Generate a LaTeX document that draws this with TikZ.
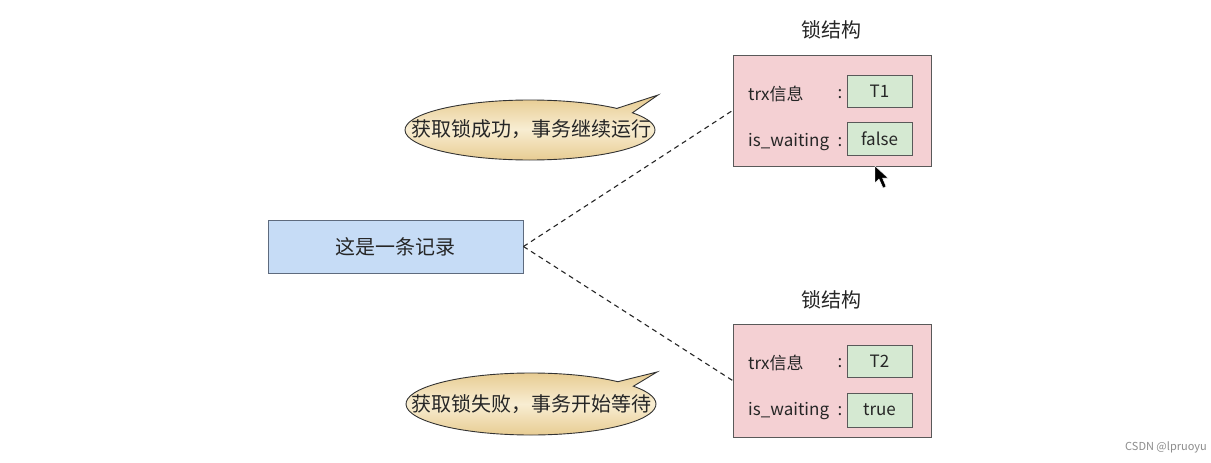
\documentclass[tikz,border=0pt]{standalone}
\usepackage{fontspec}
\setmainfont{Noto Sans CJK SC}
\begin{document}
\begin{tikzpicture}[x=1pt,y=1pt,
  txt/.style={text=black!85},
  recbox/.style={draw=recline, line width=0.9pt, fill=recfill, minimum width=255pt, minimum height=53pt, inner sep=0pt, font=\fontsize{20}{24}\selectfont, txt},
  lockbox/.style={draw=black!65, line width=0.9pt, fill=lockfill, minimum width=198pt, inner sep=0pt},
  valbox/.style={draw=black!65, line width=0.9pt, fill=valfill, minimum width=65pt, inner sep=0pt, font=\fontsize{17}{20}\selectfont, txt},
  lbl/.style={inner sep=0pt, font=\fontsize{17}{20}\selectfont, txt},
  ttl/.style={inner sep=0pt, font=\fontsize{20}{24}\selectfont, txt},
  bubble/.style={draw=black!80, line width=0.9pt, top color=tanfill, bottom color=tanfill, middle color=creamfill},
  btext/.style={inner sep=0pt, font=\fontsize{20}{24}\selectfont, txt},
  link/.style={draw=black!85, line width=1.1pt, dash pattern=on 5pt off 4pt}
]
\definecolor{recfill}{HTML}{C6DCF6}
\definecolor{recline}{HTML}{5E6B7E}
\definecolor{lockfill}{HTML}{F4D0D3}
\definecolor{valfill}{HTML}{D5E9D2}
\definecolor{tanfill}{HTML}{E6C98C}
\definecolor{creamfill}{HTML}{F8EDD2}
\useasboundingbox (0,0) rectangle (1211,-463);
\fill[white] (0,0) rectangle (1211,-463);

% record
\node[recbox] (rec) at (395.5,-246.5) {这是一条记录};

% lock structure 1
\node[ttl] (t1) at (831,-30) {锁结构};
\node[lockbox, minimum height=111pt] (L1) at (832,-110.5) {};
\node[lbl, anchor=west] (k1) at (748,-94) {trx信息};
\node[lbl] (c1) at (840,-94) {:};
\node[valbox, minimum height=32pt] (v1) at (879.5,-91) {T1};
\node[lbl, anchor=west] (k2) at (748,-142) {is\_waiting};
\node[lbl] (c2) at (840,-142) {:};
\node[valbox, minimum height=33pt] (v2) at (879.5,-138.5) {false};

% lock structure 2
\node[ttl] (t2) at (831,-300) {锁结构};
\node[lockbox, minimum height=113pt] (L2) at (832,-380.5) {};
\node[lbl, anchor=west] (k3) at (748,-363) {trx信息};
\node[lbl] (c3) at (840,-363) {:};
\node[valbox, minimum height=32pt] (v3) at (879.5,-361) {T2};
\node[lbl, anchor=west] (k4) at (748,-411) {is\_waiting};
\node[lbl] (c4) at (840,-411) {:};
\node[valbox, minimum height=34pt] (v4) at (879.5,-410) {true};

% connectors
\draw[link] (rec.east) -- (L1.west);
\draw[link] (rec.east) -- (L2.west);

% callout 1
\coordinate (tip1) at (658,-95);
\path[bubble] ({530+125*cos(35)},{-130+30*sin(35)}) -- (tip1) -- ({530+125*cos(46)},{-130+30*sin(46)})
  arc[start angle=46, end angle=395, x radius=125, y radius=30] -- cycle;
\node[btext] (b1) at (531,-129) {获取锁成功，事务继续运行};

% callout 2
\coordinate (tip2) at (657,-372);
\path[bubble] ({531+125*cos(35)},{-404+31*sin(35)}) -- (tip2) -- ({531+125*cos(46)},{-404+31*sin(46)})
  arc[start angle=46, end angle=395, x radius=125, y radius=31] -- cycle;
\node[btext] (b2) at (531,-404) {获取锁失败，事务开始等待};

% mouse cursor
\filldraw[fill=black, draw=white, line width=0.4pt] (875,-166) -- (875,-183) -- (879,-179) -- (883,-188) -- (886,-186.5) -- (882.5,-178) -- (888,-178) -- cycle;

% watermark
\node[inner sep=0pt, anchor=east, text=black!45, font=\fontsize{11}{13}\selectfont] (wm) at (1207,-447) {CSDN @lpruoyu};
\end{tikzpicture}
\end{document}
